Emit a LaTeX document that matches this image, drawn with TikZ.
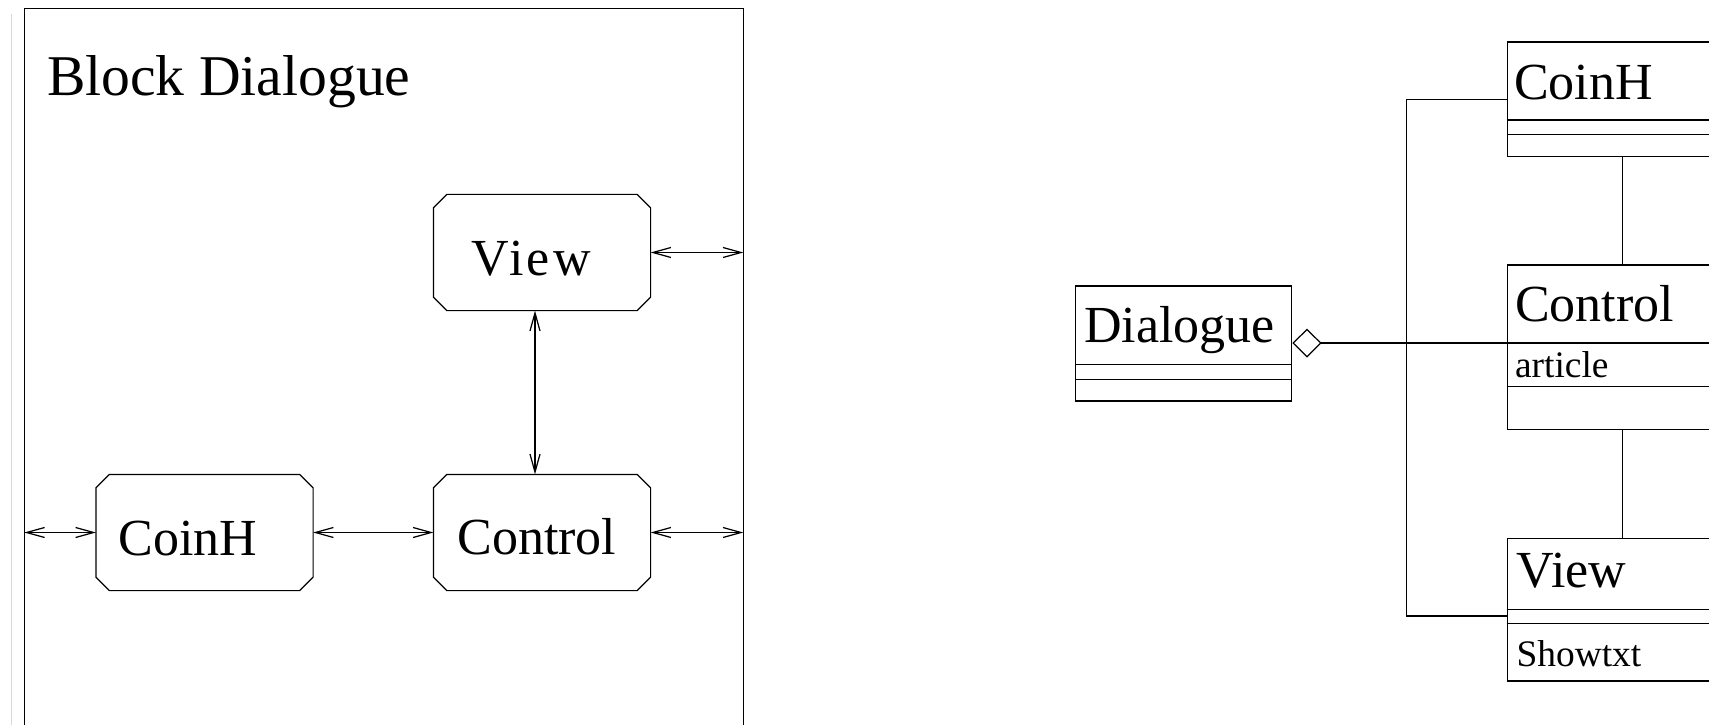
\documentclass[tikz,border=0pt]{standalone}
\usepackage{fontspec}
\setmainfont{Liberation Serif}
\usetikzlibrary{arrows.meta,calc,positioning}

\begin{document}
\begin{tikzpicture}[
    line width=0.7pt,
    block/.style={rectangle, minimum width=4.32cm, minimum height=2.3cm, inner sep=0pt},
    classbox/.style={draw, rectangle, minimum width=4.32cm, inner sep=0pt},
    bigtxt/.style={font=\fontsize{29.6}{34}\selectfont, inner sep=0pt, anchor=base west},
    smalltxt/.style={font=\fontsize{21.3}{25}\selectfont, inner sep=0pt, anchor=base west},
    link/.style={{Straight Barb[length=0.36cm,width=0.2cm]}-{Straight Barb[length=0.36cm,width=0.2cm]}},
    ]
    % size of the cut corners
    \pgfmathsetmacro{\ch}{0.27}
    \useasboundingbox (0,0) rectangle (34.18,14.48);

    % left: the block with its three parts
    \draw[gray!30, line width=0.5pt] (0.234,14.2) -- (0.234,-0.5);
    \coordinate (fl) at (0.486,14.306);
    \coordinate (fr) at (14.866,-0.5);
    \draw (fl) rectangle (fr);
    \node[font=\fontsize{32.8}{38}\selectfont, inner sep=0pt, anchor=base west] (title) at (0.93,12.56) {Block Dialogue};

    \node[block] (coinh) at (4.09,3.83) {};
    \node[block] (control) at (10.84,3.83) {};
    \node[block] (view) at (10.84,9.43) {};
    \foreach \b in {coinh,control,view} {
        \draw ([xshift=\ch cm]\b.north west) -- ([xshift=-\ch cm]\b.north east)
            -- ([yshift=-\ch cm]\b.north east) -- ([yshift=\ch cm]\b.south east)
            -- ([xshift=-\ch cm]\b.south east) -- ([xshift=\ch cm]\b.south west)
            -- ([yshift=\ch cm]\b.south west) -- ([yshift=-\ch cm]\b.north west) -- cycle;
    }
    \node[bigtxt] (coinhtxt) at ($(coinh.west)+(0.446,-0.45)$) {CoinH};
    \node[bigtxt] (controltxt) at ($(control.west)+(0.466,-0.44)$) {Control};
    \node[bigtxt] (viewtxt) at ($(view.west)+(0.754,-0.45)$) {\addfontfeature{LetterSpace=6}View};

    \draw[link] (coinh.west -| fl) -- (coinh.west);
    \draw[link] (coinh.east) -- (control.west);
    \draw[link] (control.east) -- (control.east -| fr);
    \draw[link] (view.east) -- (view.east -| fr);
    \draw[link] ([xshift=-0.14cm]view.south) -- ([xshift=-0.14cm]control.north);

    % right: the classes
    \node[classbox, minimum height=2.3cm] (dlgcls) at (23.674,7.61) {};
    \node[classbox, minimum height=2.294cm] (coinhcls) at (32.306,12.493) {};
    \node[classbox, minimum height=3.286cm] (ctrlcls) at (32.306,7.537) {};
    \node[classbox, minimum height=2.854cm] (viewcls) at (32.306,2.287) {};

    % compartment lines
    \foreach \c/\a/\b in {dlgcls/1.586/1.88, coinhcls/1.574/1.86, ctrlcls/1.574/2.44, viewcls/1.434/1.714} {
        \draw ([yshift=-\a cm]\c.north west) -- ([yshift=-\a cm]\c.north east);
        \draw ([yshift=-\b cm]\c.north west) -- ([yshift=-\b cm]\c.north east);
    }

    \node[bigtxt] (dlgname) at ($(dlgcls.north west)+(0.166,-1.146)$) {Dialogue};
    \node[bigtxt] (coinhname) at ($(coinhcls.north west)+(0.134,-1.16)$) {CoinH};
    \node[bigtxt] (ctrlname) at ($(ctrlcls.north west)+(0.154,-1.134)$) {Control};
    \node[smalltxt] (ctrlattr) at ($(ctrlcls.north west)+(0.154,-2.266)$) {article};
    \node[bigtxt] (viewname) at ($(viewcls.north west)+(0.188,-1.0)$) {View};
    \node[smalltxt] (viewop) at ($(viewcls.north west)+(0.184,-2.568)$) {Showtxt};

    % aggregation and links
    \coordinate (agg) at ([yshift=-1.574cm]ctrlcls.north west);
    \coordinate (bus) at (28.134,0);
    \coordinate (viewjoin) at ([yshift=-0.127cm]viewcls.west);
    \draw[-{Diamond[open,length=0.586cm,width=0.58cm]}] (agg) -- (agg -| dlgcls.east);
    \draw (coinhcls.west) -- (coinhcls.west -| bus) -- (viewjoin -| bus) -- (viewjoin);
    \draw ([xshift=0.14cm]coinhcls.south) -- ([xshift=0.14cm]ctrlcls.north);
    \draw ([xshift=0.14cm]ctrlcls.south) -- ([xshift=0.14cm]viewcls.north);

\end{tikzpicture}
\end{document}
